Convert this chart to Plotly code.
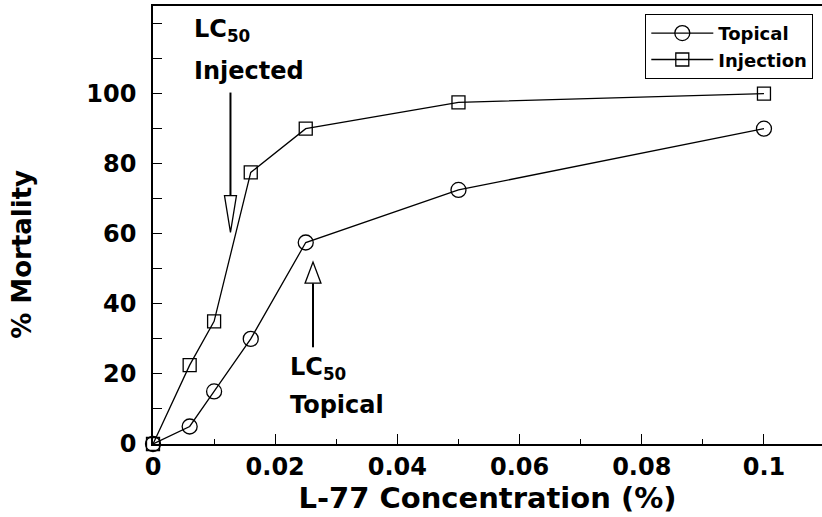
import plotly.graph_objects as go

# ---- data ----
conc = [0, 0.006, 0.01, 0.016, 0.025, 0.05, 0.1]
topical = [0, 5, 15, 30, 57.5, 72.5, 90]
injection = [0, 22.5, 35, 77.5, 90, 97.5, 100]

x_tickvals = [0, 0.02, 0.04, 0.06, 0.08, 0.1]
x_ticktext = ["0", "0.02", "0.04", "0.06", "0.08", "0.1"]
x_minor = [0.01, 0.03, 0.05, 0.07, 0.09]
y_tickvals = [0, 20, 40, 60, 80, 100]
y_ticktext = ["0", "20", "40", "60", "80", "100"]
y_minor = [10, 30, 50, 70, 90, 110, 120]

# LC50 arrow annotations (x, line end y, head base y, head tip y, half width)
inj_arrow = dict(x=0.01268, y0=100.3, yb=70.9, yt=60.4, hw=0.00098)
top_arrow = dict(x=0.02619, y0=27.6, yb=45.9, yt=51.9, hw=0.0013)

FONT = "DejaVu Sans"

fig = go.Figure()
fig.add_trace(go.Scatter(
    x=conc, y=topical, name="Topical", mode="lines+markers",
    line=dict(color="black", width=1.3),
    marker=dict(symbol="circle-open", size=15, color="black", line=dict(width=1.3)),
    cliponaxis=False))
fig.add_trace(go.Scatter(
    x=conc, y=injection, name="Injection", mode="lines+markers",
    line=dict(color="black", width=1.3),
    marker=dict(symbol="square-open", size=13, color="black", line=dict(width=1.3)),
    cliponaxis=False))

for a in (inj_arrow, top_arrow):
    fig.add_shape(type="line", x0=a["x"], x1=a["x"], y0=a["y0"], y1=a["yb"],
                  line=dict(color="black", width=2))
    path = (f"M {a['x']-a['hw']},{a['yb']} L {a['x']+a['hw']},{a['yb']} "
            f"L {a['x']},{a['yt']} Z")
    fig.add_shape(type="path", path=path, fillcolor="white",
                  line=dict(color="black", width=1.3))

ann_font = dict(family=FONT, size=24, color="black", weight="bold")
texts = [
    ("LC<sub>50</sub>", 0.00638, 118.0),
    ("Injected", 0.00638, 106.5),
    ("LC<sub>50</sub>", 0.02210, 21.5),
    ("Topical", 0.02210, 11.0),
]
for t, xx, yy in texts:
    fig.add_annotation(x=xx, y=yy, text=t, showarrow=False, xanchor="left",
                       yanchor="middle", font=ann_font)

# y-axis title (placed as rotated text, sits below the axis centre in the original)
fig.add_annotation(x=-0.196, y=0.434, xref="paper", yref="paper",
                   text="% Mortality", textangle=-90, showarrow=False,
                   xanchor="center", yanchor="middle",
                   font=dict(family=FONT, size=26, color="black", weight="bold"))

fig.update_layout(
    width=822, height=517,
    margin=dict(l=153, r=0, t=6, b=73),
    plot_bgcolor="white", paper_bgcolor="white",
    font=dict(family=FONT, color="black"),
    showlegend=True,
    legend=dict(x=0.987, y=0.982, xanchor="right", yanchor="top",
                bordercolor="black", borderwidth=1, bgcolor="white",
                itemwidth=62, tracegroupgap=0,
                font=dict(family=FONT, size=18, color="black", weight="bold")),
    xaxis=dict(range=[0, 0.1095], showline=True, linecolor="black", linewidth=1.5,
               mirror=True, showgrid=False, zeroline=False, automargin=False,
               ticks="inside", ticklen=10, tickwidth=1.3, tickcolor="black",
               tickmode="array", tickvals=x_tickvals, ticktext=x_ticktext,
               tickfont=dict(family=FONT, size=24, color="black", weight="bold"),
               minor=dict(tickmode="array", tickvals=x_minor, ticks="inside",
                          ticklen=5, tickwidth=1.3, tickcolor="black"),
               title=dict(text="L-77 Concentration (%)", standoff=8,
                          font=dict(family=FONT, size=29, color="black", weight="bold"))),
    yaxis=dict(range=[0, 125], showline=True, linecolor="black", linewidth=1.5,
               mirror=False, showgrid=False, zeroline=False, automargin=False,
               ticks="inside", ticklen=9, tickwidth=1.3, tickcolor="black",
               tickmode="array", tickvals=y_tickvals, ticktext=y_ticktext,
               ticklabelstandoff=10,
               tickfont=dict(family=FONT, size=24, color="black", weight="bold"),
               minor=dict(tickmode="array", tickvals=y_minor, ticks="inside",
                          ticklen=9, tickwidth=1.3, tickcolor="black")),
)

fig.write_html("out.html", config={"displayModeBar": False},
               post_script="document.body.style.margin='0';document.body.style.overflow='hidden';")
